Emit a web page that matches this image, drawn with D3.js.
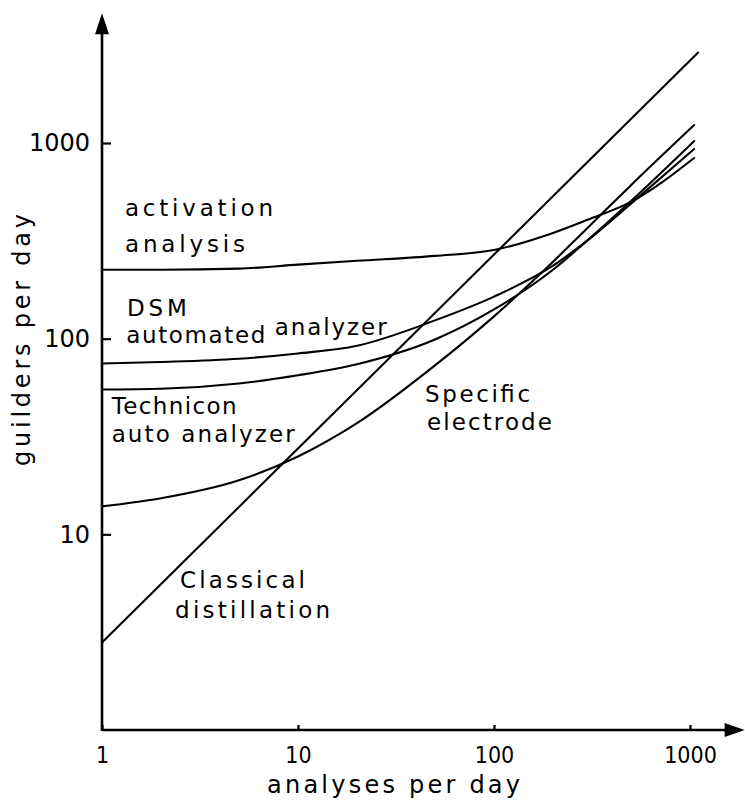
<!DOCTYPE html>
<html>
<head>
<meta charset="utf-8">
<script src="https://cdn.jsdelivr.net/npm/d3@7"></script>
<style>
  body { margin: 0; background: #fff; }
  svg text { font-family: "DejaVu Sans", sans-serif; fill: #000; }
</style>
</head>
<body>
<svg id="chart" width="745" height="800"></svg>
<script>
// analyses per day (x) and guilders per day (y)
var analyses = [1, 2, 5, 10, 20, 50, 100, 200, 300, 500, 1050];
var activation = [225, 225, 228, 239, 250, 265, 284, 347, 405, 500, 838];
var dsm = [74.6, 76, 79, 84, 92, 124, 164, 236, 318, 490, 931];
var technicon = [55, 55.5, 59, 65, 74, 99, 141, 225, 318, 505, 1023];
var specific = [13.9, 15.3, 18.9, 25, 37, 73, 130, 247, 368, 609, 1236];
var classicalX = [1, 1100];
var classical = [2.8, 2900];

var xTicks = [1, 10, 100, 1000];
var yTicks = [10, 100, 1000];

// curve labels: text, anchor in data units (start of baseline), width in px
var labels = [
  ["activation", 1.31, 424, 148],
  ["analysis", 1.31, 278, 120],
  ["DSM", 1.34, 131, 60],
  ["automated", 1.33, 95, 139],
  ["analyzer", 7.6, 105, 112],
  ["Technicon", 1.12, 41, 125],
  ["auto analyzer", 1.12, 29.5, 183],
  ["Specific", 44.5, 47.5, 105],
  ["electrode", 45.5, 34, 125],
  ["Classical", 2.5, 5.3, 125],
  ["distillation", 2.36, 3.73, 155]
];

var svg = d3.select("#chart");

var x = d3.scaleLog().domain([1, 1000]).range([102, 690]);
var y = d3.scaleLog().domain([1, 1000]).range([730, 143]);

// axes
var xAxis = d3.axisBottom(x)
    .tickValues(xTicks)
    .tickFormat(d3.format("d"))
    .tickSize(-5)
    .tickPadding(17);
var yAxis = d3.axisLeft(y)
    .tickValues(yTicks)
    .tickFormat(d3.format("d"))
    .tickSize(-9)
    .tickPadding(12);

var gx = svg.append("g")
    .attr("transform", "translate(0," + y(1) + ")")
    .call(xAxis);
var gy = svg.append("g")
    .attr("transform", "translate(" + x(1) + ",0)")
    .call(yAxis);

[gx, gy].forEach(function(g) {
  g.select(".domain").remove();
  g.selectAll(".tick line").attr("stroke", "#000").attr("stroke-width", 2.2);
  g.selectAll(".tick text").attr("fill", "#000");
});
gx.selectAll(".tick text")
    .style("font-family", "'DejaVu Sans Condensed', 'DejaVu Sans', sans-serif")
    .style("font-size", "23px");
gy.selectAll(".tick text")
    .style("font-family", "'DejaVu Sans', sans-serif")
    .style("font-size", "24px");

// axis lines with arrowheads
var xEnd = x(1900), yEnd = y(4600);
svg.append("path")
    .attr("d", "M" + x(1) + "," + y(1) + "H" + (xEnd - 10))
    .attr("stroke", "#000").attr("stroke-width", 2.6).attr("fill", "none");
svg.append("path")
    .attr("d", "M" + xEnd + "," + y(1) + "l-20,-7l0,14z")
    .attr("fill", "#000");
svg.append("path")
    .attr("d", "M" + x(1) + "," + (y(1) + 1) + "V" + (yEnd + 10))
    .attr("stroke", "#000").attr("stroke-width", 2.6).attr("fill", "none");
svg.append("path")
    .attr("d", "M" + x(1) + "," + yEnd + "l-7,21l14,0z")
    .attr("fill", "#000");

// curves
var line = d3.line()
    .x(function(d) { return x(d[0]); })
    .y(function(d) { return y(d[1]); })
    .curve(d3.curveMonotoneX);

var series = [activation, dsm, technicon, specific];
series.forEach(function(s) {
  svg.append("path")
      .datum(d3.zip(analyses, s))
      .attr("d", line)
      .attr("fill", "none")
      .attr("stroke", "#000")
      .attr("stroke-width", 2.1)
      .attr("stroke-linecap", "round");
});
svg.append("path")
    .datum(d3.zip(classicalX, classical))
    .attr("d", line)
    .attr("fill", "none")
    .attr("stroke", "#000")
    .attr("stroke-width", 2.1)
    .attr("stroke-linecap", "round");

// curve labels
svg.append("g").selectAll("text")
    .data(labels)
  .enter().append("text")
    .attr("x", function(d) { return x(d[1]); })
    .attr("y", function(d) { return y(d[2]); })
    .attr("textLength", function(d) { return d[3]; })
    .attr("lengthAdjust", "spacing")
    .style("font-size", "23px")
    .text(function(d) { return d[0]; });

// axis titles
svg.append("text")
    .attr("x", 267)
    .attr("y", 793)
    .attr("textLength", 253)
    .attr("lengthAdjust", "spacing")
    .style("font-size", "24px")
    .text("analyses per day");

svg.append("text")
    .attr("transform", "translate(30,466) rotate(-90)")
    .attr("textLength", 252)
    .attr("lengthAdjust", "spacing")
    .style("font-size", "24px")
    .text("guilders per day");
</script>
</body>
</html>
